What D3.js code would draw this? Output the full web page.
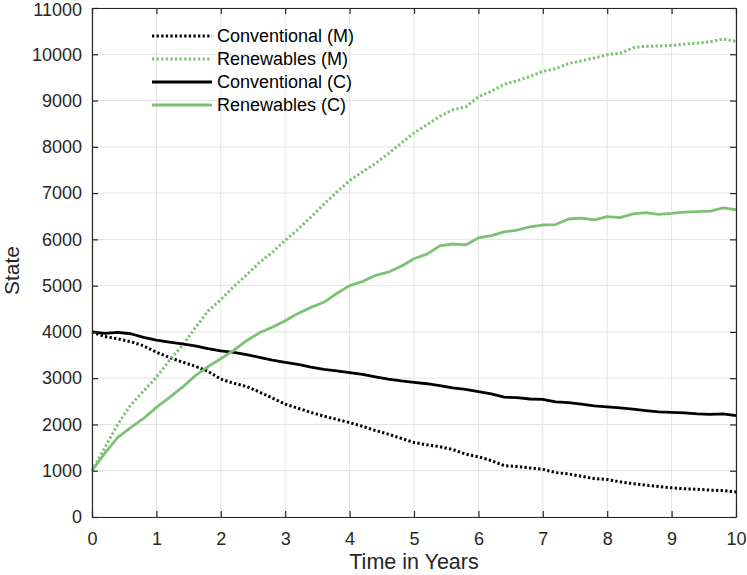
<!DOCTYPE html>
<html>
<head>
<meta charset="utf-8">
<script src="https://cdn.jsdelivr.net/npm/d3@7"></script>
<style>
  body { margin: 0; background: #fff; }
  svg { display: block; }
  text { font-family: "Liberation Sans", Arial, Helvetica, sans-serif; fill: #262626; }
</style>
</head>
<body>
<svg id="chart" width="747" height="575"></svg>
<script>
// ---- data ----
const years = d3.range(0, 10.0001, 0.2).map(v => +v.toFixed(1));
const xTicks = [0,1,2,3,4,5,6,7,8,9,10];
const yTicks = [0,1000,2000,3000,4000,5000,6000,7000,8000,9000,10000,11000];

const conventionalM = [4000,3900,3850,3790,3700,3560,3450,3350,3260,3150,2980,2890,2820,2700,2570,2440,2350,2260,2180,2110,2040,1960,1870,1790,1700,1610,1560,1520,1460,1360,1300,1220,1110,1090,1060,1030,960,930,880,830,810,760,720,690,660,630,610,600,580,570,540];
const renewablesM = [1000,1500,2000,2420,2720,3020,3380,3700,4080,4450,4700,4980,5230,5500,5720,5980,6220,6480,6760,7020,7270,7460,7640,7850,8080,8300,8480,8660,8800,8860,9080,9200,9350,9430,9520,9630,9690,9800,9860,9920,9990,10020,10140,10170,10180,10190,10220,10240,10270,10330,10280];
const conventionalC = [4000,3970,3990,3960,3880,3820,3780,3740,3700,3640,3590,3560,3510,3450,3390,3340,3300,3240,3190,3160,3120,3080,3030,2980,2940,2910,2880,2840,2790,2760,2710,2660,2590,2580,2550,2540,2490,2470,2440,2400,2380,2360,2330,2300,2270,2260,2250,2230,2220,2230,2190];
const renewablesC = [1000,1380,1720,1930,2130,2370,2580,2800,3050,3250,3420,3600,3810,3980,4100,4240,4400,4530,4640,4830,5000,5090,5220,5290,5420,5580,5680,5860,5900,5880,6030,6080,6160,6200,6270,6310,6320,6440,6460,6420,6490,6470,6550,6580,6540,6560,6590,6600,6610,6680,6640];

const seriesNames = ["Conventional (M)", "Renewables (M)", "Conventional (C)", "Renewables (C)"];
const seriesValues = [conventionalM, renewablesM, conventionalC, renewablesC];
const seriesColors = ["#000000", "#7cc274", "#000000", "#7cc274"];
const seriesDashed = [true, true, false, false];

// ---- layout ----
const svg = d3.select("#chart");
const W = 747, H = 575;
const m = {left: 92, right: 11, top: 8, bottom: 58};
const iw = W - m.left - m.right, ih = H - m.top - m.bottom;
const axisColor = "#262626";

const x = d3.scaleLinear().domain([0, 10]).range([m.left, m.left + iw]);
const y = d3.scaleLinear().domain([0, 11000]).range([m.top + ih, m.top]);

// grid
const grid = svg.append("g");
grid.selectAll(".gx").data(xTicks).join("line")
  .attr("x1", d => x(d)).attr("x2", d => x(d))
  .attr("y1", m.top).attr("y2", m.top + ih)
  .attr("stroke", "#e3e3e3").attr("stroke-width", 1);
grid.selectAll(".gy").data(yTicks).join("line")
  .attr("x1", m.left).attr("x2", m.left + iw)
  .attr("y1", d => y(d)).attr("y2", d => y(d))
  .attr("stroke", "#e3e3e3").attr("stroke-width", 1);

// lines
const line = d3.line().x((d, i) => x(years[i])).y(d => y(d));
seriesValues.forEach((vals, k) => {
  svg.append("path")
    .datum(vals)
    .attr("d", line)
    .attr("fill", "none")
    .attr("stroke", seriesColors[k])
    .attr("stroke-width", seriesDashed[k] ? 3 : 2.8)
    .attr("stroke-dasharray", seriesDashed[k] ? "2.3,2.3" : null)
    .attr("stroke-linejoin", "round");
});

// axes (inward ticks, box)
function styleAxis(g) {
  g.select(".domain").attr("stroke", axisColor).attr("stroke-width", 1.2);
  g.selectAll(".tick line").attr("stroke", axisColor).attr("stroke-width", 1.2);
  g.selectAll(".tick text").attr("fill", axisColor);
}
const gBottom = svg.append("g").attr("transform", `translate(0,${m.top + ih})`)
  .call(d3.axisBottom(x).tickValues(xTicks).tickSizeInner(-6).tickSizeOuter(0).tickPadding(15));
gBottom.selectAll("text").style("font-size", "18px");
styleAxis(gBottom);
const gTop = svg.append("g").attr("transform", `translate(0,${m.top})`)
  .call(d3.axisTop(x).tickValues(xTicks).tickSizeInner(-6).tickSizeOuter(0).tickFormat(""));
styleAxis(gTop);
const gLeft = svg.append("g").attr("transform", `translate(${m.left},0)`)
  .call(d3.axisLeft(y).tickValues(yTicks).tickSizeInner(-6).tickSizeOuter(0).tickPadding(10).tickFormat(d3.format("d")));
gLeft.selectAll("text").style("font-size", "18px");
gLeft.selectAll(".tick").filter(d => d === 11000).select("text").attr("dy", "0.42em");
styleAxis(gLeft);
const gRight = svg.append("g").attr("transform", `translate(${m.left + iw},0)`)
  .call(d3.axisRight(y).tickValues(yTicks).tickSizeInner(-6).tickSizeOuter(0).tickFormat(""));
styleAxis(gRight);

// axis labels
svg.append("text").attr("x", m.left + iw / 2).attr("y", 569)
  .attr("text-anchor", "middle").style("font-size", "21.5px").text("Time in Years");
svg.append("text").attr("transform", `translate(19,${m.top + ih / 2 + 8}) rotate(-90)`)
  .attr("text-anchor", "middle").style("font-size", "21px").text("State");

// legend
const lg = svg.append("g");
seriesNames.forEach((name, k) => {
  const yy = 36 + k * 23;
  lg.append("line").attr("x1", 152).attr("x2", 212).attr("y1", yy).attr("y2", yy)
    .attr("stroke", seriesColors[k])
    .attr("stroke-width", seriesDashed[k] ? 3 : 2.8)
    .attr("stroke-dasharray", seriesDashed[k] ? "2.3,2.3" : null);
  lg.append("text").attr("x", 217).attr("y", yy).attr("dy", "0.35em")
    .style("font-size", "18px").style("fill", "#000").text(name);
});
</script>
</body>
</html>
